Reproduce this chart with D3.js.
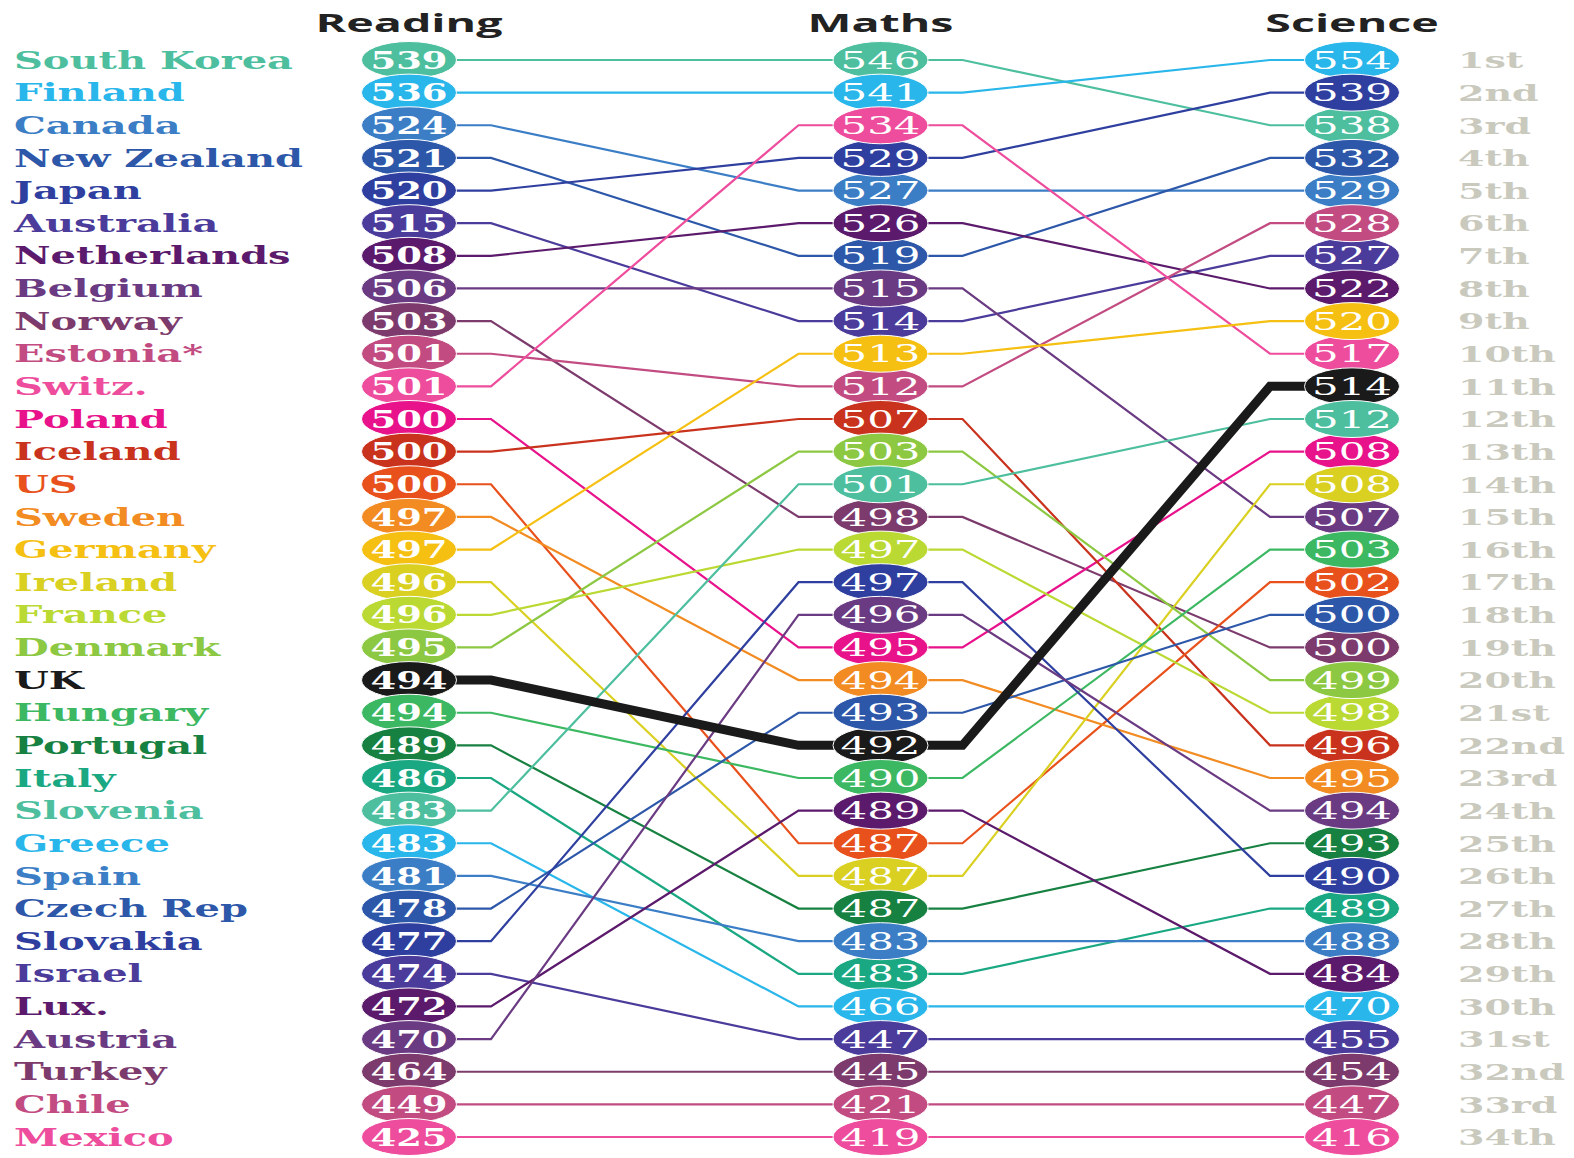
<!DOCTYPE html>
<html><head><meta charset="utf-8">
<script src="https://cdnjs.cloudflare.com/ajax/libs/d3/7.8.5/d3.min.js"></script>
<style>
html,body{margin:0;padding:0;background:#fff;}
svg{display:block;}
</style></head>
<body>
<script>
// ---------- DATA ----------
const countries = ["South Korea","Finland","Canada","New Zealand","Japan","Australia","Netherlands","Belgium","Norway","Estonia*","Switz.","Poland","Iceland","US","Sweden","Germany","Ireland","France","Denmark","UK","Hungary","Portugal","Italy","Slovenia","Greece","Spain","Czech Rep","Slovakia","Israel","Lux.","Austria","Turkey","Chile","Mexico"];
const reading = [539,536,524,521,520,515,508,506,503,501,501,500,500,500,497,497,496,496,495,494,494,489,486,483,483,481,478,477,474,472,470,464,449,425];
const maths   = [546,541,527,519,529,514,526,515,498,512,534,495,507,487,494,513,487,497,503,492,490,487,483,501,466,483,493,497,447,489,496,445,421,419];
const science = [538,554,529,532,539,527,522,507,500,528,517,508,496,502,495,520,508,498,499,514,503,493,489,512,470,488,500,490,455,484,494,454,447,416];
// position (1 = top) of each country in each column
const readingRank = d3.range(1, 35);
const mathsRank   = [1,2,5,7,4,9,6,8,15,11,3,19,12,25,20,10,26,16,13,22,23,27,29,14,30,28,21,17,31,24,18,32,33,34];
const scienceRank = [3,1,5,4,2,7,8,15,19,6,10,13,22,17,23,9,14,21,20,11,16,25,27,12,30,28,18,26,31,29,24,32,33,34];
const colors = ["#4dbf9e","#29b6ea","#3b7ec6","#2d57a9","#2f3f9f","#4b3b9b","#5b1a6b","#6a3b82","#7c3b6c","#c24c82","#ee4c9c","#e8128b","#c9321c","#e8511c","#f28b22","#f5c012","#d9d022","#bad932","#8dc842","#1a1a1a","#3db862","#178142","#1aa882","#4dbf9e","#29b6ea","#3b7ec6","#2d57a9","#2f3f9f","#4b3b9b","#5b1a6b","#6a3b82","#7c3b6c","#c24c82","#ee4c9c"];
const subjects = ["Reading","Maths","Science"];
const rankLabels = ["1st","2nd","3rd","4th","5th","6th","7th","8th","9th","10th","11th","12th","13th","14th","15th","16th","17th","18th","19th","20th","21st","22nd","23rd","24th","25th","26th","27th","28th","29th","30th","31st","32nd","33rd","34th"];
const highlight = "UK";

// ---------- LAYOUT ----------
const W = 1574, H = 1158;
const svg = d3.select("body").append("svg").attr("width", W).attr("height", H);
const x = d3.scalePoint().domain(subjects).range([409, 1352]);
const y = d3.scaleLinear().domain([1, 34]).range([60, 1137]);
const kink = 82;
const slab = "'DejaVu Serif', 'Liberation Serif', serif";

function stretchFor(txt, font, size, weight, target) {
  const t = svg.append("text").attr("font-family", font).attr("font-size", size)
    .attr("font-weight", weight).text(txt);
  const w = t.node().getComputedTextLength();
  t.remove();
  return target / w;
}
const sxLabel = stretchFor("New Zealand", slab, 24, "bold", 289);
const sxNum = stretchFor("539", slab, 24, "bold", 77);
const sxNumR = stretchFor("546", slab, 24, "normal", 80);
const sxHead = stretchFor("Reading", "'Open Sans', sans-serif", 25, "bold", 187);
const sxRank = stretchFor("34th", slab, 23, "bold", 98);

const rows = countries.map((c, i) => ({
  name: c, color: colors[i],
  ranks: [readingRank[i], mathsRank[i], scienceRank[i]],
  scores: [reading[i], maths[i], science[i]]
}));

// headers
svg.append("g").selectAll("text").data(subjects).join("text")
  .attr("transform", d => `translate(${x(d)},32) scale(${sxHead},1)`)
  .attr("text-anchor", "middle")
  .attr("font-family", "'Open Sans', sans-serif").attr("font-weight", "bold")
  .attr("font-size", 25).attr("fill", "#222").text(d => d);

// lines
const line = d3.line().x(d => d[0]).y(d => d[1]);
function pts(r) {
  const p = [];
  subjects.forEach((s, k) => {
    const xx = x(s), yy = y(r.ranks[k]);
    if (k > 0) p.push([xx - kink, yy]);
    p.push([xx, yy]);
    if (k < subjects.length - 1) p.push([xx + kink, yy]);
  });
  return p;
}
const ordered = rows.filter(r => r.name !== highlight).concat(rows.filter(r => r.name === highlight));
svg.append("g").attr("fill", "none").attr("stroke-linejoin", "miter")
  .selectAll("path").data(ordered).join("path")
  .attr("d", r => line(pts(r)))
  .attr("stroke", r => r.color)
  .attr("stroke-width", r => r.name === highlight ? 9 : 2.2);

// ovals
const cells = [];
rows.forEach(r => subjects.forEach((s, k) => cells.push({ r, k, s })));
const g = svg.append("g");
g.selectAll("ellipse").data(cells).join("ellipse")
  .attr("cx", d => x(d.s)).attr("cy", d => y(d.r.ranks[d.k]))
  .attr("rx", 47.5).attr("ry", 18.5)
  .attr("fill", d => d.r.color).attr("stroke", "#fff").attr("stroke-width", 1);
g.selectAll("text").data(cells).join("text")
  .attr("transform", d => `translate(${x(d.s)},${y(d.r.ranks[d.k])}) scale(${d.k === 0 ? sxNum : sxNumR},1)`)
  .attr("text-anchor", "middle").attr("dy", "0.36em")
  .attr("font-family", slab).attr("font-size", 24)
  .attr("font-weight", d => d.k === 0 ? "bold" : "normal")
  .attr("fill", "#fff").text(d => d.r.scores[d.k]);

// country labels
svg.append("g").selectAll("text").data(rows).join("text")
  .attr("transform", r => `translate(14,${y(r.ranks[0])}) scale(${sxLabel},1)`)
  .attr("dy", "0.36em").attr("font-family", slab).attr("font-weight", "bold")
  .attr("font-size", 24).attr("fill", r => r.color).text(r => r.name);

// rank labels
svg.append("g").selectAll("text").data(rankLabels).join("text")
  .attr("transform", (d, i) => `translate(1458,${y(i + 1)}) scale(${sxRank},1)`)
  .attr("dy", "0.36em").attr("font-family", slab).attr("font-weight", "bold")
  .attr("font-size", 23).attr("fill", "#c9c9bd").text(d => d);
</script>
</body></html>
